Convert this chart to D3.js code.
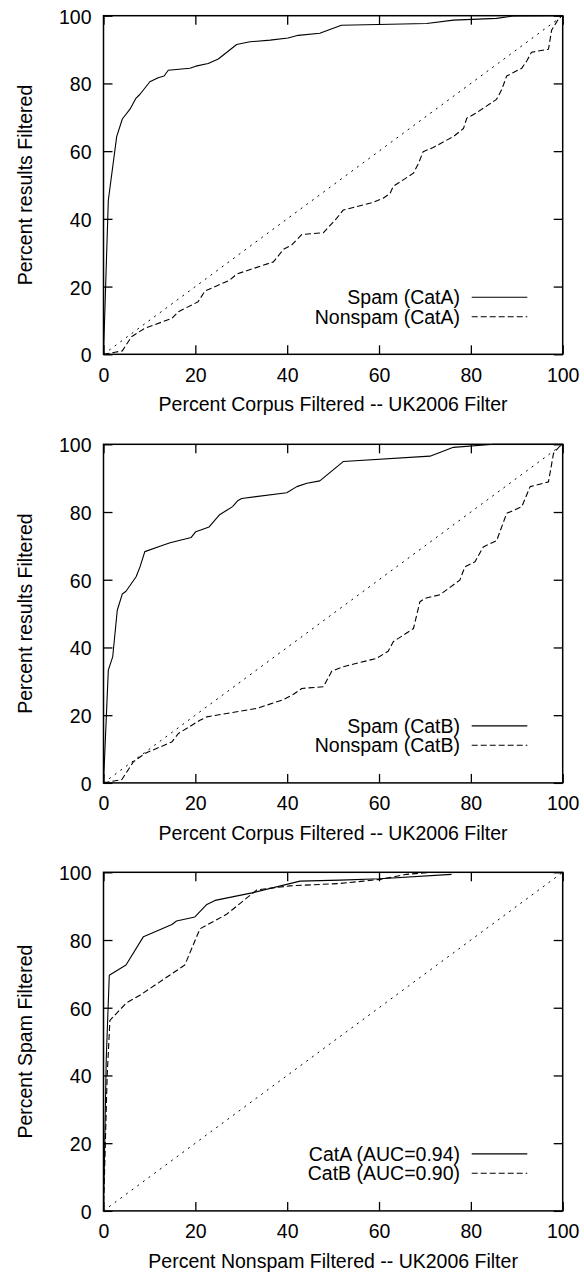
<!DOCTYPE html>
<html><head><meta charset="utf-8">
<script src="https://cdn.jsdelivr.net/npm/d3@7"></script>
<style>
body{margin:0;background:#fff}
text{font-family:"Liberation Sans",Arial,Helvetica,sans-serif;fill:#000}
</style>
</head><body>
<svg id="c" width="584" height="1275"></svg>
<script>
// ---- data ----
const xTicks = [0, 20, 40, 60, 80, 100];
const yTicks = [0, 20, 40, 60, 80, 100];
const diagonal = [[0, 0], [100, 100]];

const spamCatA = [[0,0],[1.05,45.5],[2.87,64.3],[4.1,69.5],[5.77,72.4],[7.0,75.5],[7.95,76.8],[10.1,80.5],[11.9,81.7],[13.2,82.2],[14.1,83.9],[18.8,84.5],[20.1,85.1],[22.8,85.9],[25.0,87.2],[29.0,91.5],[31.9,92.3],[36.3,92.8],[40.2,93.4],[42.4,94.2],[47.1,94.8],[51.8,97.2],[70.4,97.7],[76.2,98.7],[85.6,99.2],[89.2,99.9],[100,100]];
const nonspamCatA = [[0,0],[2.5,0.6],[4.1,1.0],[6.1,5.2],[9.0,7.7],[14.9,10.6],[16.3,12.6],[20.6,15.5],[22.1,18.7],[27.5,21.9],[29.0,23.7],[37.0,27.3],[39.2,31.0],[41.0,32.3],[43.2,35.4],[47.9,35.9],[50.8,40.2],[52.2,42.6],[58.8,44.9],[60.9,46.1],[62.4,47.5],[63.1,49.6],[67.5,53.5],[68.6,56.4],[69.6,59.8],[71.8,61.1],[76.2,64.3],[78.4,66.7],[79.1,69.7],[81.3,71.4],[85.6,75.3],[86.7,78.1],[87.8,82.2],[91.1,84.5],[92.2,86.7],[93.2,89.2],[96.9,90.1],[97.6,95.8],[99.4,99.7],[100,100]];

const spamCatB = [[0,0],[1.05,33.3],[2.0,37.2],[3.0,51.0],[4.1,55.8],[4.9,56.6],[7.1,60.9],[7.95,63.8],[9.0,68.3],[12.3,69.9],[14.5,70.9],[19.1,72.5],[20.1,74.2],[23.0,75.6],[25.2,79.1],[28.1,81.6],[29.2,83.3],[30.1,84.0],[39.9,85.7],[42.1,87.5],[44.3,88.5],[47.1,89.2],[52.2,94.9],[71.1,96.5],[76.2,99.1],[85,100],[100,100]];
const nonspamCatB = [[0,0],[4.0,1.0],[6.5,6.2],[9.0,8.7],[14.9,12.1],[16.3,14.6],[21.0,18.5],[22.5,19.5],[33.4,22.0],[39.2,24.6],[41.3,26.1],[43.2,27.9],[47.9,28.4],[49.7,33.0],[52.2,34.3],[59.5,36.8],[62.0,38.9],[63.1,41.7],[67.5,45.6],[68.9,53.5],[70.0,54.5],[73.3,55.6],[77.6,59.9],[78.7,63.8],[80.9,65.3],[82.7,69.7],[85.6,71.5],[87.8,79.6],[91.1,81.6],[92.9,87.5],[96.9,88.9],[98.0,97.3],[99.4,99.5],[100,100]];

const rocCatA = [[0,0],[0.6,45],[1.26,69.6],[4.9,72.6],[8.7,81.0],[14.9,84.6],[15.9,85.6],[19.9,86.8],[22.5,90.5],[24.3,91.7],[32.6,94.0],[42.8,97.4],[51.5,97.7],[60.2,98.1],[75.8,99.4]];
const rocCatB = [[0,0],[0.8,40],[1.4,56.3],[5.05,61.5],[7.95,63.7],[17.7,72.6],[21.0,83.3],[26.8,87.6],[33.4,94.8],[40.6,96.0],[51.5,96.7],[56.6,97.4],[60.2,97.9],[66.0,99.4],[70.4,99.9]];

const xTitles = ["Percent Corpus Filtered -- UK2006 Filter", "Percent Corpus Filtered -- UK2006 Filter", "Percent Nonspam Filtered -- UK2006 Filter"];
const yTitles = ["Percent results Filtered", "Percent results Filtered", "Percent Spam Filtered"];
const legendLabels = [["Spam (CatA)", "Nonspam (CatA)"], ["Spam (CatB)", "Nonspam (CatB)"], ["CatA (AUC=0.94)", "CatB (AUC=0.90)"]];
const panelSeries = [[spamCatA, nonspamCatA], [spamCatB, nonspamCatB], [rocCatA, rocCatB]];

// ---- layout ----
const svg = d3.select("#c");
const FS = 19.5;
const left = 103.5, right = 562.7, ph = 338.6;
const tops = [15.7, 444.3, 872.3];
const styles = [{dash: null}, {dash: "6,3"}];

tops.forEach((top, i) => {
  const bottom = top + ph;
  const x = d3.scaleLinear().domain([0, 100]).range([left, right]);
  const y = d3.scaleLinear().domain([0, 100]).range([bottom, top]);
  const g = svg.append("g");

  // axes
  const ax = [
    [d3.axisBottom(x).tickValues(xTicks).tickSizeInner(-9).tickSizeOuter(0).tickPadding(13.6), `translate(0,${bottom})`, true],
    [d3.axisTop(x).tickValues(xTicks).tickSizeInner(-9).tickSizeOuter(0).tickFormat(""), `translate(0,${top})`, false],
    [d3.axisLeft(y).tickValues(yTicks).tickSizeInner(-9).tickSizeOuter(0).tickPadding(12), `translate(${left},0)`, true],
    [d3.axisRight(y).tickValues(yTicks).tickSizeInner(-9).tickSizeOuter(0).tickFormat(""), `translate(${right},0)`, false]
  ];
  ax.forEach(([a, tr]) => {
    const ag = g.append("g").attr("transform", tr).call(a);
    ag.select(".domain").remove();
    ag.selectAll("line").attr("stroke", "#000").attr("stroke-width", 1.3);
    ag.selectAll("text").attr("font-size", FS).attr("font-family", null).attr("fill", "#000");
  });
  g.selectAll(".tick text").filter(function(){ return this.parentNode.parentNode.getAttribute("transform").startsWith("translate(103"); }).attr("dy", "0.38em");

  // diagonal
  const line = d3.line().x(d => x(d[0])).y(d => y(d[1]));
  g.append("path").attr("d", line(diagonal)).attr("fill", "none")
    .attr("stroke", "#000").attr("stroke-width", 1).attr("stroke-dasharray", "2,5");

  // series
  panelSeries[i].forEach((s, k) => {
    g.append("path").attr("d", line(s)).attr("fill", "none")
      .attr("stroke", "#000").attr("stroke-width", 1.1)
      .attr("stroke-linejoin", "round")
      .attr("stroke-dasharray", styles[k].dash);
  });

  // frame
  g.append("rect").attr("x", left).attr("y", top).attr("width", right - left).attr("height", ph)
    .attr("fill", "none").attr("stroke", "#000").attr("stroke-width", 1.5);

  // legend
  legendLabels[i].forEach((lab, k) => {
    const ly = top + 281.6 + k * 19.4;
    g.append("text").attr("x", 460).attr("y", ly).attr("dy", "0.35em")
      .attr("text-anchor", "end").attr("font-size", FS).text(lab);
    g.append("line").attr("x1", 471.7).attr("x2", 527.3).attr("y1", ly).attr("y2", ly)
      .attr("stroke", "#000").attr("stroke-width", 1.1).attr("stroke-dasharray", styles[k].dash);
  });

  // titles
  g.append("text").attr("x", (left + right) / 2).attr("y", bottom + 57)
    .attr("text-anchor", "middle").attr("font-size", FS).text(xTitles[i]);
  g.append("text").attr("transform", `translate(32.3,${(top + bottom) / 2}) rotate(-90)`)
    .attr("text-anchor", "middle").attr("font-size", FS).text(yTitles[i]);
});
</script>
</body></html>
